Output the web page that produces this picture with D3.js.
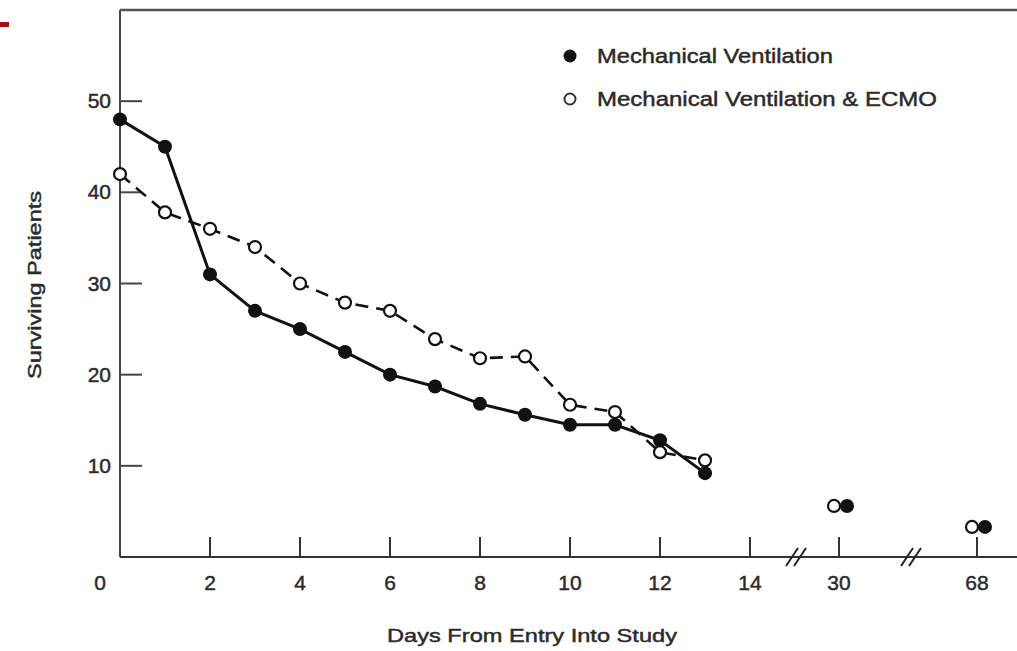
<!DOCTYPE html>
<html lang="en">
<head>
    <meta charset="UTF-8">
    <title>surviving patients</title>
    <script src="https://d3js.org/d3.v7.min.js"></script>
    <style>
        body{ margin:0; background:#fff; }
        text{ font-family: "Liberation Sans", Arial, sans-serif; fill:#2a2a2a; stroke:#2a2a2a; stroke-width:0.45px; }
    </style>
</head>
<body>
<svg id="chart" width="1017" height="651"></svg>

<script>
    // values
    let days = [0,1,2,3,4,5,6,7,8,9,10,11,12,13];
    let mv   = [48,45,31,27,25,22.5,20,18.7,16.8,15.6,14.5,14.5,12.8,9.2];
    let ecmo = [42,37.8,36,34,30,27.9,27,23.9,21.8,22,16.7,15.9,11.5,10.6];
    let lateDays = [30,68];
    let mvLate   = [5.6,3.3];
    let ecmoLate = [5.6,3.3];
    let xTicks = [2,4,6,8,10,12,14,30,68];
    let yTicks = [10,20,30,40,50];
    let breaks = [22,49];
    let legendNames = ["Mechanical Ventilation","Mechanical Ventilation & ECMO"];

    let svg = d3.select("#chart");

    // broken x axis: 0-14 linear, then 30 and 68 squeezed in
    let x = d3.scaleLinear().domain([0,14,22,30,49,68]).range([120,750,797,839,912,977]);
    let y = d3.scaleLinear().domain([0,60]).range([557,10]);

    // small red mark top left
    svg.append("rect").attr("x",0).attr("y",22).attr("width",9).attr("height",5).attr("fill","#a30f0f");

    // frame: left axis, top line, bottom axis
    svg.append("line").attr("x1",120).attr("x2",120).attr("y1",y(60)).attr("y2",y(0))
        .attr("stroke","#444").attr("stroke-width",2);
    svg.append("line").attr("x1",120).attr("x2",1017).attr("y1",y(60)).attr("y2",y(60))
        .attr("stroke","#555").attr("stroke-width",2.5);
    svg.append("line").attr("x1",120).attr("x2",1017).attr("y1",y(0)).attr("y2",y(0))
        .attr("stroke","#333").attr("stroke-width",2);

    // x ticks (pointing up)
    svg.selectAll(".xt").data(xTicks).enter().append("line")
        .attr("x1",d=>x(d)).attr("x2",d=>x(d)).attr("y1",y(0)).attr("y2",y(0)-20)
        .attr("stroke","#333").attr("stroke-width",2);
    svg.selectAll(".xl").data(xTicks).enter().append("text")
        .attr("x",d=>x(d)).attr("y",590).attr("text-anchor","middle")
        .attr("font-size",21).text(d=>d);
    svg.append("text").attr("x",100).attr("y",590).attr("text-anchor","middle")
        .attr("font-size",21).text("0");

    // axis breaks
    breaks.forEach(function(b){
        [-5,3].forEach(function(o){
            svg.append("line")
                .attr("x1",x(b)+o-6).attr("y1",y(0)+9)
                .attr("x2",x(b)+o+6).attr("y2",y(0)-9)
                .attr("stroke","#222").attr("stroke-width",2);
        })
    })

    // y ticks (pointing right)
    svg.selectAll(".yt").data(yTicks).enter().append("line")
        .attr("x1",120).attr("x2",142).attr("y1",d=>y(d)).attr("y2",d=>y(d))
        .attr("stroke","#444").attr("stroke-width",2);
    svg.selectAll(".yl").data(yTicks).enter().append("text")
        .attr("x",111).attr("y",d=>y(d)+7).attr("text-anchor","end")
        .attr("font-size",21).text(d=>d);

    // axis titles
    svg.append("text").attr("x",532).attr("y",642).attr("text-anchor","middle")
        .attr("font-size",19).attr("textLength",290).attr("lengthAdjust","spacingAndGlyphs")
        .text("Days From Entry Into Study");
    svg.append("text").attr("transform","translate(41,285) rotate(-90)")
        .attr("text-anchor","middle").attr("font-size",18)
        .attr("textLength",188).attr("lengthAdjust","spacingAndGlyphs")
        .text("Surviving Patients");

    let line = d3.line().x(d=>x(d[0])).y(d=>y(d[1]));
    let mvPts = days.map((d,i)=>[d,mv[i]]);
    let ecPts = days.map((d,i)=>[d,ecmo[i]]);

    svg.append("path").datum(ecPts).attr("d",line).attr("fill","none")
        .attr("stroke","#111").attr("stroke-width",2.6).attr("stroke-dasharray","13,8");
    svg.append("path").datum(mvPts).attr("d",line).attr("fill","none")
        .attr("stroke","#111").attr("stroke-width",3);

    // late points, drawn side by side
    let lateE = lateDays.map((d,i)=>[d,ecmoLate[i]]);
    let lateM = lateDays.map((d,i)=>[d,mvLate[i]]);

    svg.selectAll(".ep").data(ecPts).enter().append("circle")
        .attr("cx",d=>x(d[0])).attr("cy",d=>y(d[1])).attr("r",6)
        .attr("fill","#fff").attr("stroke","#111").attr("stroke-width",2.2);
    svg.selectAll(".mp").data(mvPts).enter().append("circle")
        .attr("cx",d=>x(d[0])).attr("cy",d=>y(d[1])).attr("r",7).attr("fill","#111");

    svg.selectAll(".le").data(lateE).enter().append("circle")
        .attr("cx",d=>x(d[0])-5).attr("cy",d=>y(d[1])).attr("r",6)
        .attr("fill","#fff").attr("stroke","#111").attr("stroke-width",2.2);
    svg.selectAll(".lm").data(lateM).enter().append("circle")
        .attr("cx",d=>x(d[0])+8).attr("cy",d=>y(d[1])).attr("r",7).attr("fill","#111");

    // legend
    let lg = svg.append("g");
    lg.append("circle").attr("cx",570).attr("cy",56).attr("r",6.5).attr("fill","#111");
    lg.append("circle").attr("cx",570).attr("cy",99).attr("r",5.5)
        .attr("fill","#fff").attr("stroke","#333").attr("stroke-width",2);
    lg.selectAll(".lt").data(legendNames).enter().append("text")
        .attr("x",597).attr("y",(d,i)=>63+i*43).attr("font-size",20)
        .attr("textLength",(d,i)=>i==0?236:340).attr("lengthAdjust","spacingAndGlyphs")
        .text(d=>d);
</script>
</body>
</html>
